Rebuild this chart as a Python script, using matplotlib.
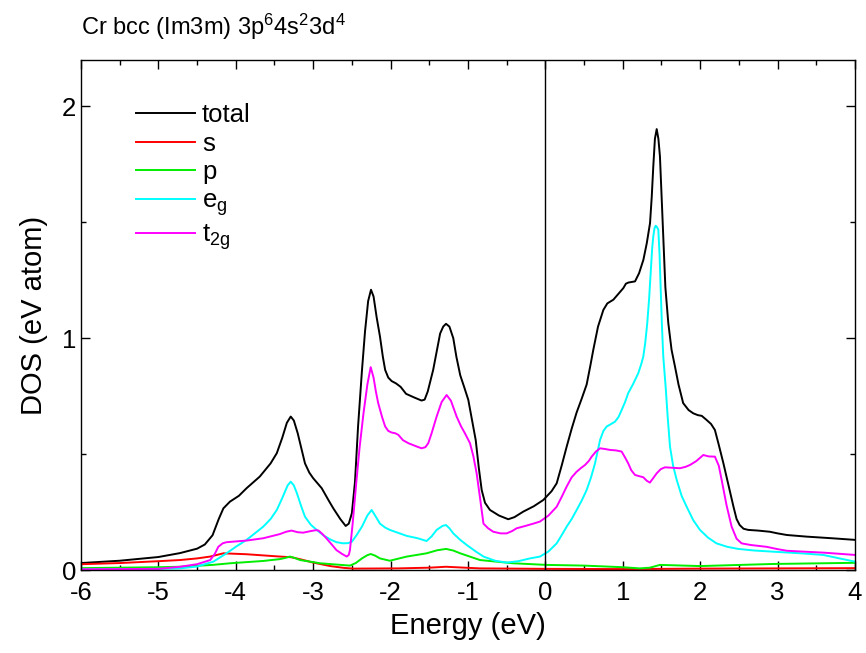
import matplotlib
matplotlib.use("Agg")
import matplotlib.pyplot as plt
from matplotlib.ticker import MultipleLocator

plt.rcParams['font.family'] = ['Liberation Sans', 'DejaVu Sans']
plt.rcParams['mathtext.fontset'] = 'custom'
plt.rcParams['mathtext.rm'] = 'Liberation Sans'
plt.rcParams['mathtext.it'] = 'Liberation Sans'
plt.rcParams['mathtext.bf'] = 'Liberation Sans'
plt.rcParams['axes.unicode_minus'] = False

# total DOS
e_tot = [-6.0, -5.5, -5.0, -4.72, -4.5, -4.4, -4.3, -4.22, -4.16, -4.075, -3.96, -3.86, -3.69,
         -3.55, -3.47, -3.40, -3.34, -3.29, -3.25, -3.20, -3.15, -3.106, -3.05, -3.0, -2.89,
         -2.80, -2.74, -2.65, -2.58, -2.54, -2.50, -2.46, -2.42, -2.37, -2.33, -2.29, -2.253,
         -2.22, -2.18, -2.137, -2.10, -2.07, -2.03, -1.986, -1.93, -1.87, -1.80, -1.70, -1.60,
         -1.56, -1.52, -1.45, -1.40, -1.36, -1.32, -1.284, -1.24, -1.19, -1.15, -1.10, -1.05,
         -0.996, -0.95, -0.90, -0.86, -0.823, -0.78, -0.716, -0.60, -0.48, -0.40, -0.285, -0.15,
         -0.027, 0.08, 0.146, 0.21, 0.275, 0.34, 0.404, 0.47, 0.533, 0.58, 0.619, 0.68, 0.749,
         0.80, 0.878, 0.94, 1.007, 1.04, 1.072, 1.12, 1.158, 1.21, 1.266, 1.31, 1.352, 1.374,
         1.394, 1.415, 1.438, 1.46, 1.48, 1.50, 1.523, 1.55, 1.588, 1.63, 1.674, 1.72, 1.78,
         1.85, 1.91, 1.97, 2.02, 2.08, 2.14, 2.19, 2.24, 2.30, 2.37, 2.43, 2.47, 2.51, 2.56,
         2.62, 2.75, 2.90, 3.0, 3.12, 3.375, 3.7, 4.0]
dos_tot = [0.03, 0.04, 0.056, 0.073, 0.092, 0.11, 0.15, 0.22, 0.266, 0.295, 0.32, 0.353, 0.403,
           0.46, 0.504, 0.57, 0.635, 0.662, 0.645, 0.59, 0.52, 0.46, 0.42, 0.396, 0.353,
           0.30, 0.266, 0.22, 0.19, 0.20, 0.245, 0.38, 0.62, 0.86, 1.03, 1.16, 1.209,
           1.18, 1.09, 1.007, 0.92, 0.863, 0.83, 0.815, 0.805, 0.79, 0.76, 0.745, 0.731,
           0.735, 0.77, 0.863, 0.95, 1.02, 1.05, 1.062, 1.05, 1.00, 0.92, 0.84, 0.79,
           0.734, 0.65, 0.56, 0.44, 0.345, 0.29, 0.259, 0.235, 0.219, 0.228, 0.252, 0.275,
           0.302, 0.34, 0.374, 0.45, 0.532, 0.61, 0.68, 0.74, 0.80, 0.88, 0.95, 1.05, 1.122,
           1.15, 1.166, 1.19, 1.216, 1.235, 1.24, 1.243, 1.245, 1.28, 1.338, 1.41, 1.497, 1.61,
           1.741, 1.86, 1.902, 1.86, 1.784, 1.62, 1.425, 1.22, 1.065, 0.95, 0.878, 0.80, 0.72,
           0.69, 0.676, 0.668, 0.665, 0.648, 0.63, 0.604, 0.54, 0.46, 0.36, 0.273, 0.22, 0.194, 0.178,
           0.173, 0.17, 0.165, 0.158, 0.151, 0.144, 0.137, 0.13]

# s states
e_s = [-6.0, -5.5, -5.0, -4.72, -4.5, -4.33, -4.16, -3.86, -3.43, -3.28, -3.15, -3.0, -2.78,
       -2.6, -2.48, -1.9, -1.5, -1.284, -1.1, -0.85, 0.0, 1.0, 2.0, 3.0, 4.0]
dos_s = [0.025, 0.03, 0.038, 0.043, 0.05, 0.058, 0.072, 0.068, 0.058, 0.055, 0.045, 0.032, 0.017,
         0.009, 0.006, 0.007, 0.01, 0.014, 0.011, 0.007, 0.005, 0.004, 0.006, 0.007, 0.008]

# p states
e_p = [-6.0, -5.0, -4.72, -4.3, -4.075, -3.645, -3.43, -3.35, -3.30, -3.24, -3.17, -2.91,
       -2.525, -2.45, -2.37, -2.3, -2.257, -2.2, -2.137, -2.01, -1.79, -1.535, -1.4, -1.284,
       -1.19, -1.10, -0.845, -0.415, 0.017, 0.5, 1.0, 1.22, 1.35, 1.48, 2.0, 2.94, 4.0]
dos_p = [0.008, 0.012, 0.014, 0.022, 0.029, 0.039, 0.047, 0.053, 0.058, 0.052, 0.043, 0.029,
         0.019, 0.03, 0.05, 0.064, 0.069, 0.062, 0.05, 0.04, 0.058, 0.072, 0.085, 0.091,
         0.084, 0.072, 0.043, 0.029, 0.022, 0.019, 0.012, 0.007, 0.01, 0.022, 0.017, 0.026, 0.031]

# e_g states
e_eg = [-6.0, -5.0, -4.72, -4.5, -4.29, -4.2, -4.12, -4.0, -3.86, -3.645, -3.55, -3.47, -3.40,
        -3.33, -3.29, -3.25, -3.21, -3.16, -3.106, -3.03, -2.955, -2.87, -2.78, -2.70, -2.61,
        -2.55, -2.50, -2.44, -2.37, -2.30, -2.245, -2.20, -2.137, -2.07, -2.01, -1.90, -1.79,
        -1.65, -1.535, -1.47, -1.405, -1.33, -1.284, -1.24, -1.19, -1.10, -1.017, -0.90, -0.80,
        -0.65, -0.50, -0.35, -0.20, -0.07, 0.04, 0.146, 0.21, 0.275, 0.34, 0.404, 0.47, 0.533,
        0.59, 0.641, 0.68, 0.706, 0.75, 0.792, 0.85, 0.90, 0.945, 0.985, 1.03, 1.07, 1.13, 1.20,
        1.24, 1.265, 1.29, 1.316, 1.34, 1.36, 1.38, 1.394, 1.41, 1.425, 1.44, 1.459, 1.475, 1.49,
        1.505, 1.523, 1.555, 1.58, 1.61, 1.65, 1.696, 1.76, 1.825, 1.91, 1.997, 2.10, 2.21, 2.35,
        2.49, 2.70, 2.945, 3.3, 3.59, 3.8, 4.0]
dos_eg = [0.003, 0.005, 0.007, 0.015, 0.036, 0.055, 0.072, 0.10, 0.13, 0.187, 0.22, 0.259, 0.31,
          0.365, 0.381, 0.365, 0.331, 0.28, 0.23, 0.195, 0.173, 0.15, 0.132, 0.12, 0.115,
          0.116, 0.122, 0.15, 0.187, 0.235, 0.259, 0.235, 0.2, 0.183, 0.173, 0.16, 0.147,
          0.137, 0.125, 0.145, 0.173, 0.19, 0.194, 0.18, 0.158, 0.13, 0.108, 0.08, 0.058,
          0.04, 0.032, 0.038, 0.05, 0.058, 0.08, 0.115, 0.15, 0.187, 0.22, 0.259, 0.30, 0.345,
          0.40, 0.46, 0.52, 0.561, 0.60, 0.619, 0.63, 0.64, 0.66, 0.69, 0.725, 0.763, 0.80, 0.849,
          0.89, 0.921, 0.98, 1.065, 1.17, 1.281, 1.39, 1.439, 1.475, 1.485, 1.48, 1.468, 1.36, 1.209,
          1.06, 0.921, 0.784, 0.66, 0.532, 0.45, 0.389, 0.32, 0.273, 0.215, 0.173, 0.14, 0.115, 0.10,
          0.091, 0.084, 0.079, 0.072, 0.065, 0.05, 0.036]

# t_2g states
e_t2g = [-6.0, -5.0, -4.72, -4.5, -4.33, -4.27, -4.226, -4.17, -4.12, -3.86, -3.645, -3.43,
         -3.35, -3.28, -3.20, -3.13, -3.03, -2.96, -2.93, -2.88, -2.83, -2.76, -2.70, -2.63,
         -2.567, -2.54, -2.525, -2.49, -2.44, -2.40, -2.35, -2.30, -2.257, -2.22, -2.19, -2.16,
         -2.11, -2.07, -2.03, -1.986, -1.94, -1.90, -1.84, -1.77, -1.68, -1.60, -1.55, -1.513,
         -1.47, -1.405, -1.34, -1.276, -1.22, -1.147, -1.09, -1.04, -0.974, -0.93, -0.888, -0.84,
         -0.80, -0.74, -0.673, -0.58, -0.50, -0.43, -0.371, -0.26, -0.156, -0.07, 0.04, 0.146,
         0.21, 0.275, 0.34, 0.404, 0.46, 0.512, 0.56, 0.598, 0.65, 0.706, 0.77, 0.835, 0.91,
         0.985, 1.03, 1.07, 1.11, 1.158, 1.21, 1.265, 1.31, 1.35, 1.39, 1.438, 1.49, 1.545,
         1.64, 1.739, 1.81, 1.868, 1.95, 2.04, 2.11, 2.19, 2.24, 2.277, 2.34, 2.406, 2.47,
         2.535, 2.65, 2.858, 3.0, 3.12, 3.35, 3.59, 4.0]
dos_t2g = [0.003, 0.005, 0.014, 0.025, 0.043, 0.07, 0.10, 0.115, 0.12, 0.127, 0.137, 0.155,
           0.165, 0.17, 0.163, 0.161, 0.168, 0.172, 0.17, 0.155, 0.137, 0.11, 0.086, 0.07,
           0.058, 0.065, 0.086, 0.2, 0.389, 0.53, 0.676, 0.80, 0.875, 0.83, 0.77, 0.72,
           0.66, 0.619, 0.60, 0.593, 0.59, 0.583, 0.56, 0.547, 0.535, 0.525, 0.53, 0.547,
           0.59, 0.662, 0.725, 0.755, 0.73, 0.662, 0.62, 0.59, 0.547, 0.49, 0.417, 0.30,
           0.2, 0.18, 0.165, 0.158, 0.158, 0.168, 0.18, 0.19, 0.2, 0.209, 0.235, 0.273,
           0.315, 0.36, 0.40, 0.424, 0.44, 0.453, 0.47, 0.489, 0.51, 0.525, 0.522, 0.518, 0.516,
           0.511, 0.485, 0.46, 0.43, 0.41, 0.405, 0.40, 0.385, 0.377, 0.395, 0.417, 0.435, 0.443,
           0.441, 0.439, 0.445, 0.453, 0.47, 0.496, 0.49, 0.489, 0.45, 0.389, 0.28, 0.187, 0.135,
           0.115, 0.108, 0.10, 0.09, 0.083, 0.079, 0.075, 0.065]

fig = plt.figure(figsize=(8.66, 6.53), dpi=100)
ax = fig.add_axes([0.0935, 0.1271, 0.8938, 0.781])

lw = 1.4
ax.plot(e_tot, dos_tot, color='black', lw=lw, label='total')
ax.plot(e_s, dos_s, color='#ff0000', lw=lw, label='s')
ax.plot(e_p, dos_p, color='#00ee00', lw=lw, label='p')
ax.plot(e_eg, dos_eg, color='#00ffff', lw=lw, label=r'e$_{\mathrm{g}}$')
ax.plot(e_t2g, dos_t2g, color='#ff00ff', lw=lw, label=r't$_{\mathrm{2g}}$')
ax.axvline(0, color='black', lw=1.0)

ax.set_xlim(-6, 4)
ax.set_ylim(0, 2.2)
ax.xaxis.set_major_locator(MultipleLocator(1))
ax.xaxis.set_minor_locator(MultipleLocator(0.5))
ax.yaxis.set_major_locator(MultipleLocator(1))
ax.yaxis.set_minor_locator(MultipleLocator(0.5))
ax.tick_params(which='both', direction='in', top=True, right=True, labelsize=18.5)
ax.tick_params(which='major', length=6.5, width=1.0)
ax.tick_params(which='minor', length=3.3, width=1.0)
ax.tick_params(axis='x', pad=8)
for sp in ax.spines.values():
    sp.set_linewidth(1.0)

ax.set_xlabel('Energy (eV)', fontsize=21, labelpad=5)
ax.set_ylabel('DOS (eV atom)', fontsize=21, labelpad=10)
ax.set_title(r'Cr bcc (Im3m) 3p$^6$4s$^2$3d$^4$', loc='left', fontsize=17, pad=18)

ax.legend(loc='upper left', bbox_to_anchor=(0.055, 0.94), frameon=False, fontsize=18.5,
          handlelength=2.3, handletextpad=0.25, labelspacing=0.17, borderpad=0)

fig.savefig('out.png', dpi=100)
